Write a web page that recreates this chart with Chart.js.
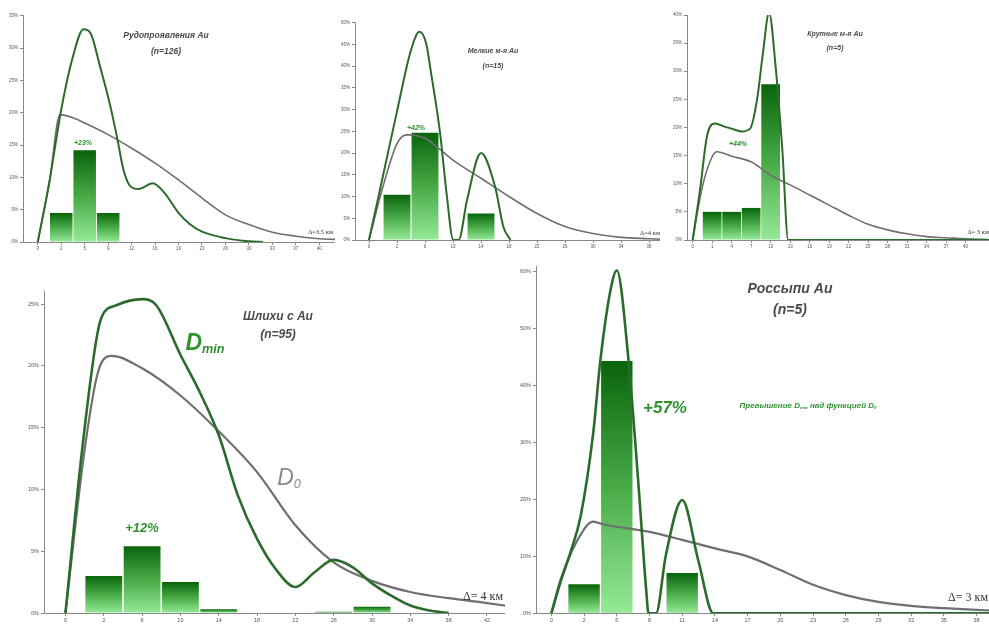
<!DOCTYPE html>
<html>
<head>
<meta charset="utf-8">
<script src="https://cdn.jsdelivr.net/npm/chart.js@4.4.1/dist/chart.umd.min.js"></script>
<style>
  body { margin: 0; background: #fff; width: 989px; height: 632px; position: relative; overflow: hidden;
         font-family: "Liberation Sans", Arial, sans-serif; }
  .box { position: absolute; }
  .t { position: absolute; white-space: nowrap; font-style: italic; transform: translate(-50%, -50%); line-height: 1; }
  .h { font-weight: bold; color: #4a4a4a; }
  .r { transform: translate(-100%, -50%); font-style: normal; font-family: "Liberation Serif", serif; color: #333; }
  .g { color: #2f922f; }
  sub { font-size: 55%; vertical-align: -0.25em; }
</style>
</head>
<body>
<div class="box" style="left:0;top:0;width:335px;height:255px"><canvas id="c1"></canvas></div>
<div class="box" style="left:330px;top:0;width:330px;height:255px"><canvas id="c2"></canvas></div>
<div class="box" style="left:655px;top:0;width:334px;height:255px"><canvas id="c3"></canvas></div>
<div class="box" style="left:0;top:255px;width:505px;height:377px"><canvas id="c4"></canvas></div>
<div class="box" style="left:490px;top:255px;width:499px;height:377px"><canvas id="c5"></canvas></div>

<!-- подписи -->
<div class="t h" style="left:166px;top:35px;font-size:8.5px">Рудопроявления Au</div>
<div class="t h" style="left:166px;top:51px;font-size:8.5px">(n=126)</div>
<div class="t g" style="left:83px;top:142px;font-size:7px;font-weight:bold">+23%</div>
<div class="t r" style="left:333px;top:232px;font-size:6.5px">Δ=3.5 км</div>

<div class="t h" style="left:493px;top:50px;font-size:7px">Мелкие м-я Au</div>
<div class="t h" style="left:493px;top:65px;font-size:7px">(n=15)</div>
<div class="t g" style="left:416px;top:127px;font-size:7px;font-weight:bold">+42%</div>
<div class="t r" style="left:660px;top:233px;font-size:6.5px">Δ=4 км</div>

<div class="t h" style="left:835px;top:33px;font-size:7px">Крупные м-я Au</div>
<div class="t h" style="left:835px;top:47px;font-size:7px">(n=5)</div>
<div class="t g" style="left:738px;top:143px;font-size:7px;font-weight:bold">+44%</div>
<div class="t r" style="left:989px;top:232px;font-size:6.5px">Δ= 3 км</div>

<div class="t h" style="left:278px;top:316px;font-size:12px">Шлихи с Au</div>
<div class="t h" style="left:278px;top:334px;font-size:12px">(n=95)</div>
<div class="t g" style="left:205px;top:343px;font-size:23px;font-weight:bold">D<sub>min</sub></div>
<div class="t" style="left:289px;top:478px;font-size:23px;color:#8a8a8a">D<sub>0</sub></div>
<div class="t g" style="left:142px;top:527px;font-size:13px;font-weight:bold">+12%</div>
<div class="t r" style="left:503px;top:596px;font-size:12px">Δ= 4 км</div>

<div class="t h" style="left:790px;top:288px;font-size:14px">Россыпи Au</div>
<div class="t h" style="left:790px;top:309px;font-size:14px">(n=5)</div>
<div class="t g" style="left:665px;top:407px;font-size:17px;font-weight:bold">+57%</div>
<div class="t g" style="left:808px;top:406px;font-size:8px;font-weight:bold">Превышение D<sub>min</sub> над функцией D<sub>0</sub></div>
<div class="t r" style="left:988px;top:597px;font-size:12px">Δ= 3 км</div>

<script>
// Рудопроявления Au (n=126), Δ=3.5 км
const ticks1 = ['0','2','5','9','12','16','19','23','26','30','33','37','40'];
const barX1 = [1, 2, 3];
const barY1 = [4.5, 14.2, 4.5];
const dmin1 = [[0,0],[0.5,9.4],[1,20.5],[1.5,28.7],[1.95,32.9],[2.25,32.3],[2.65,27.2],[3.1,20.9],[3.4,15.8],[3.65,11.2],[3.95,8.6],[4.3,8.2],[4.9,9.1],[5.4,7.6],[6,4.5],[6.5,2.7],[7,1.6],[8,0.6],[9,0.1],[9.6,0]];
const d01 = [[0,0],[0.5,9.4],[0.95,19.7],[1.5,19.2],[2,18.4],[3,16.6],[4,14.5],[5,12.2],[6,9.6],[7,6.8],[8,4.2],[9,2.7],[10,1.5],[11,0.9],[12,0.5],[12.67,0.4]];

// Мелкие м-я Au (n=15), Δ=4 км
const ticks2 = ['0','2','6','10','14','18','22','26','30','34','38'];
const barX2 = [1, 2, 4];
const barY2 = [10.4, 24.7, 6.1];
const dmin2 = [[0,0],[0.5,14.8],[1,29.6],[1.5,43.7],[1.8,47.9],[2.05,45],[2.18,39.9],[2.54,24.5],[2.77,10.7],[3.01,0],[3.2,0],[3.5,9.2],[4,20],[4.5,12.3],[4.8,3],[5.05,0]];
const d02 = [[0,0],[0.5,12.3],[1,22.2],[1.35,24.2],[2,23.4],[2.5,21],[3,18.4],[4,14.2],[5,10],[6,6.1],[7,3.1],[8,1.5],[9,0.6],[10,0.3],[10.39,0.2]];

// Крупные м-я Au (n=5), Δ=3 км
const ticks3 = ['0','1','4','7','10','13','16','19','22','25','28','31','34','37','40'];
const barX3 = [1, 2, 3, 4];
const barY3 = [5.0, 5.0, 5.7, 27.7];
const dmin3 = [[0,0],[0.4,9.5],[0.7,17.8],[0.9,20.2],[1.15,20.7],[1.6,20.2],[2,19.8],[2.5,19.3],[2.95,19.8],[3.3,24.9],[3.6,33.1],[3.92,40.4],[4.25,31],[4.6,16],[4.9,0],[15.2,0]];
const d03 = [[0,0],[0.5,9.5],[1,14.8],[1.25,15.7],[2,14.9],[3,13.9],[4,11.5],[5,9.8],[6,8],[7,6.2],[8,4.4],[9,2.8],[10,1.8],[11,1.1],[12,0.6],[13,0.4],[14,0.2],[15.2,0.1]];

// Шлихи с Au (n=95), Δ=4 км
const ticks4 = ['0','2','6','10','14','18','22','26','30','34','38','42'];
const barX4 = [1, 2, 3, 4, 7, 8];
const barY4 = [3.0, 5.4, 2.5, 0.3, 0.1, 0.5];
const dmin4 = [[0,0],[0.42,12.8],[0.81,22.2],[0.95,24],[1.33,24.9],[2,25.4],[2.37,24.9],[3,20.9],[3.5,17.9],[4,14.4],[4.5,9.5],[5,6],[5.5,3.5],[6,2.1],[6.5,3.3],[7,4.3],[7.5,3.7],[8,2.4],[8.5,1.4],[9,0.6],[9.5,0.2],[10,0]];
const d04 = [[0,0],[0.5,13.2],[0.85,19.5],[1.2,20.8],[2,19.8],[3,17.6],[4,14.7],[5,11.4],[6,7.1],[7,4.1],[8,2.6],[9,1.7],[10,1.2],[11,0.8],[11.47,0.6]];

// Россыпи Au (n=5), Δ=3 км
const ticks5 = ['0','2','5','8','11','14','17','20','23','26','29','32','35','38'];
const barX5 = [1, 2, 4];
const barY5 = [5.1, 44.3, 7.1];
const dmin5 = [[0,0],[0.27,5.3],[0.6,11],[0.89,16.9],[1.28,31.7],[1.5,44.5],[1.8,56.5],[2,60.2],[2.35,45],[2.66,22.8],[2.9,4],[2.97,0],[3.2,0],[3.5,10.2],[4,19.9],[4.5,9.1],[4.95,0],[13.4,0]];
const d05 = [[0,0],[0.28,5.9],[0.98,14.6],[1.28,16.1],[1.6,15.6],[2,15.2],[3,14.3],[4,12.9],[5,11.4],[6,10],[7,7.6],[8,5],[9,3.2],[10,2],[11,1.3],[12,0.9],[13,0.6],[13.38,0.5]];

const toXY = arr => arr.map(p => ({ x: p[0], y: p[1] }));

// градиент столбика: тёмный сверху, светлый снизу
function barFill(c) {
  const chart = c.chart;
  if (!chart.chartArea || c.type !== 'data') return '#3c9a3c';
  const y = chart.scales.y;
  const top = y.getPixelForValue(c.raw.y);
  const bottom = y.getPixelForValue(0);
  if (bottom - top < 2) return '#2e8b2e';
  const g = chart.ctx.createLinearGradient(0, top, 0, bottom);
  g.addColorStop(0, '#0a640a');
  g.addColorStop(0.5, '#47aa47');
  g.addColorStop(1, '#96e996');
  return g;
}

function drawPanel(id, o) {
  new Chart(document.getElementById(id), {
    type: 'bar',
    data: {
      datasets: [
        { type: 'line', data: toXY(o.dmin), borderColor: '#2b6b2b', borderWidth: o.lw,
          pointRadius: 0, cubicInterpolationMode: 'monotone', order: 1 },
        { type: 'line', data: toXY(o.d0), borderColor: '#6f6f6f', borderWidth: o.lw - 0.4,
          pointRadius: 0, cubicInterpolationMode: 'monotone', order: 1 },
        { type: 'bar', data: o.barX.map((x, i) => ({ x: x, y: o.barY[i] })),
          backgroundColor: barFill, barPercentage: 0.96, categoryPercentage: 1, order: 2 }
      ]
    },
    options: {
      responsive: true,
      maintainAspectRatio: false,
      animation: false,
      layout: { padding: { top: o.padTop, right: 0, left: 0, bottom: 0 } },
      plugins: { legend: { display: false }, tooltip: { enabled: false } },
      scales: {
        x: {
          type: 'linear', min: o.xMin, max: o.xMax, offset: false,
          afterBuildTicks: s => { s.ticks = o.ticks.map((_, i) => ({ value: i })); },
          afterFit: s => { s.height = o.xH; },
          ticks: { callback: v => o.ticks[Math.round(v)], font: { size: o.fs }, color: '#555',
                   padding: 1, maxRotation: 0, autoSkip: false },
          grid: { drawOnChartArea: false, tickLength: 3, color: '#888', offset: false },
          border: { color: '#888' }
        },
        y: {
          min: 0, max: o.yMax,
          afterBuildTicks: s => {
            const t = [];
            for (let v = 0; v <= o.yTop; v += o.step) t.push({ value: v });
            s.ticks = t;
          },
          afterFit: s => { s.width = o.yW; },
          ticks: { callback: v => v + '%', font: { size: o.fs }, color: '#555', padding: 2 },
          grid: { drawOnChartArea: false, tickLength: 3, color: '#888' },
          border: { color: '#888' }
        }
      }
    }
  });
}

drawPanel('c1', { ticks: ticks1, barX: barX1, barY: barY1, dmin: dmin1, d0: d01,
  xMin: -0.63, xMax: 12.67, yMax: 35, yTop: 35, step: 5, yW: 23, xH: 13, padTop: 15.7, fs: 4.5, lw: 2 });
drawPanel('c2', { ticks: ticks2, barX: barX2, barY: barY2, dmin: dmin2, d0: d02,
  xMin: -0.5, xMax: 10.39, yMax: 50, yTop: 50, step: 5, yW: 25, xH: 15, padTop: 22.7, fs: 4.5, lw: 2 });
drawPanel('c3', { ticks: ticks3, barX: barX3, barY: barY3, dmin: dmin3, d0: d03,
  xMin: -0.29, xMax: 15.2, yMax: 40, yTop: 40, step: 5, yW: 32, xH: 15, padTop: 15, fs: 4.5, lw: 2 });
drawPanel('c4', { ticks: ticks4, barX: barX4, barY: barY4, dmin: dmin4, d0: d04,
  xMin: -0.56, xMax: 11.47, yMax: 26, yTop: 25, step: 5, yW: 44, xH: 19, padTop: 36.7, fs: 5.5, lw: 2.6 });
drawPanel('c5', { ticks: ticks5, barX: barX5, barY: barY5, dmin: dmin5, d0: d05,
  xMin: -0.47, xMax: 13.38, yMax: 61, yTop: 60, step: 10, yW: 46, xH: 18.7, padTop: 11, fs: 5.5, lw: 2.6 });
</script>
</body>
</html>
